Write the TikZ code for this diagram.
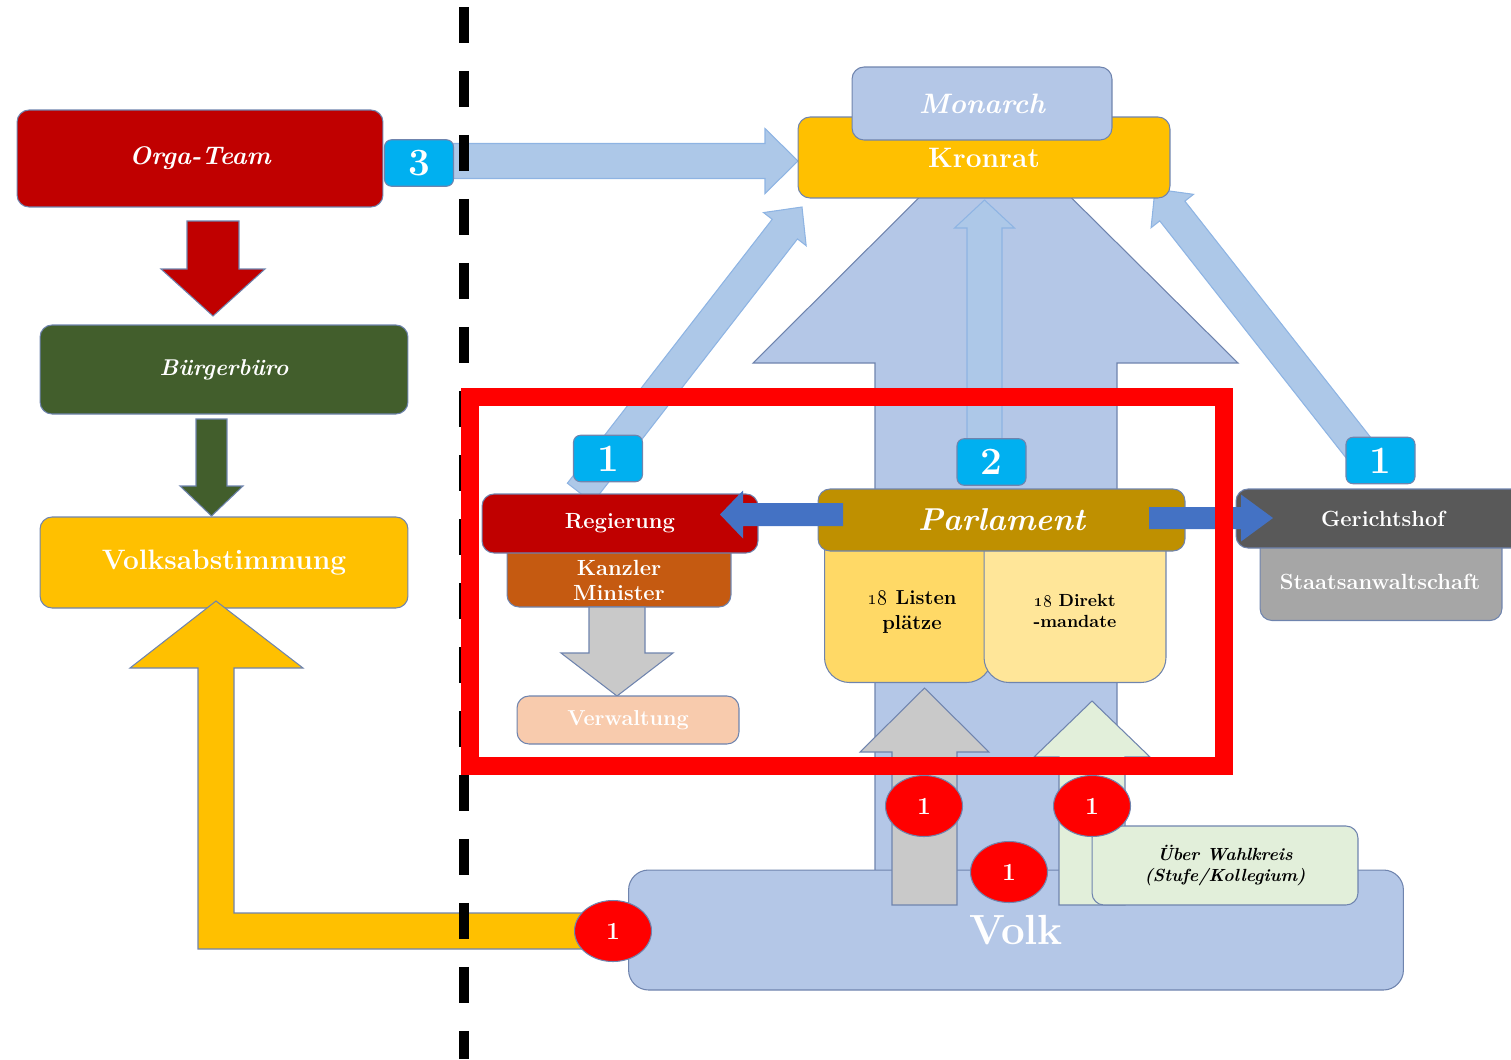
\documentclass[tikz,border=0pt]{standalone}
\usetikzlibrary{calc,shapes.geometric}
\definecolor{orgared}{HTML}{C00000}
\definecolor{buergergruen}{HTML}{425E2C}
\definecolor{gelb}{HTML}{FFC000}
\definecolor{volkblau}{HTML}{B4C7E7}
\definecolor{pfeilblau}{HTML}{ADC8E8}
\definecolor{pfeilrand}{HTML}{8EB4E3}
\definecolor{badgecyan}{HTML}{00B0F0}
\definecolor{kanzlerorange}{HTML}{C55A11}
\definecolor{verwpeach}{HTML}{F8CBAD}
\definecolor{parlgold}{HTML}{BF9000}
\definecolor{listengelb}{HTML}{FFD966}
\definecolor{direktgelb}{HTML}{FFE699}
\definecolor{gerichtgrau}{HTML}{595959}
\definecolor{staatsgrau}{HTML}{A6A6A6}
\definecolor{dunkelblau}{HTML}{4472C4}
\definecolor{pfeilgrau}{HTML}{C9C9C9}
\definecolor{hellgruen}{HTML}{E2EFDA}
\definecolor{boxline}{HTML}{6F84AE}
\newcommand{\fsz}[2]{\fontsize{#1}{#2}\selectfont}
% block arrow: [style]{from}{to}{shaft half}{head half}{head length}
\newcommand{\blockarrow}[6][]{%
  \coordinate (hb) at ($(#3)!#6!(#2)$);
  \path[#1] ($(#2)!#4!90:(#3)$) -- ($(hb)!#4!90:(#3)$) -- ($(hb)!#5!90:(#3)$)
    -- (#3) -- ($(hb)!#5!-90:(#3)$) -- ($(hb)!#4!-90:(#3)$)
    -- ($(#2)!#4!-90:(#3)$) -- cycle;}

\begin{document}
\begin{tikzpicture}[x=0.02cm, y=-0.02cm,
    box/.style={draw=boxline, line width=0.6pt, rounded corners=0.24cm, inner sep=0pt,
      text=white, font=\bfseries, align=center},
    txt/.style={inner sep=0pt, align=center, text=white, font=\bfseries},
    badge/.style={box, fill=badgecyan, rounded corners=0.14cm, minimum width=1.38cm,
      minimum height=0.93cm, font=\bfseries\fsz{22}{22}},
    dot/.style={ellipse, draw=boxline, line width=0.6pt, fill=red, inner sep=0pt,
      minimum width=1.54cm, minimum height=1.22cm, text=white, font=\bfseries\fsz{14}{14}},
    lightarrow/.style={fill=pfeilblau, draw=pfeilrand, line width=0.6pt},
    solidarrow/.style={draw=boxline, line width=0.6pt}
  ]
  \useasboundingbox (0,0) rectangle (1511,1059);
  \clip (0,0) rectangle (1511,1059);

  % arrow ends
  \coordinate (up2-s) at (984.5,440);  \coordinate (up2-e) at (984.5,200);
  \coordinate (diagl-s) at (580,493);  \coordinate (diagl-e) at (802,207);
  \coordinate (diagr-s) at (1372,465); \coordinate (diagr-e) at (1155,189);
  \coordinate (a3-s) at (453,161);     \coordinate (a3-e) at (798,161);

  % big arrow from the people up to the crown council
  \path[fill=volkblau, draw=boxline, line width=0.6pt]
    (875,900) -- (875,363) -- (753,363) -- (995,122) -- (1238,363) -- (1117,363) -- (1117,900) -- cycle;
  \blockarrow[lightarrow]{up2-s}{up2-e}{0.35cm}{0.6cm}{0.56cm}
  \blockarrow[lightarrow]{diagl-s}{diagl-e}{0.32cm}{0.54cm}{0.56cm}
  \blockarrow[lightarrow]{diagr-s}{diagr-e}{0.32cm}{0.54cm}{0.56cm}
  \blockarrow[lightarrow]{a3-s}{a3-e}{0.35cm}{0.65cm}{0.66cm}

  % crown
  \node[box, fill=gelb, minimum width=7.44cm, minimum height=1.62cm, font=\bfseries\fsz{16}{18}]
    (kronrat) at (984,157.5) {Kronrat};
  \node[box, fill=volkblau, minimum width=5.2cm, minimum height=1.46cm, font=\bfseries\itshape\fsz{16}{18}]
    (monarch) at (982,103.5) {Monarch};

  % left column
  \node[box, fill=orgared, minimum width=7.32cm, minimum height=1.94cm, font=\bfseries\itshape\fsz{14.5}{17}]
    (orga) at (200,158.5) {Orga-Team};
  \node[badge] (badge3) at (419,163) {3};
  \coordinate (red-s) at (213,221); \coordinate (red-e) at (213,316);
  \blockarrow[solidarrow, fill=orgared]{red-s}{red-e}{0.52cm}{1.04cm}{0.94cm}
  \node[box, fill=buergergruen, minimum width=7.36cm, minimum height=1.78cm, font=\bfseries\itshape\fsz{13}{15}]
    (buerger) at (224,369.5) {Bürgerbüro};
  \coordinate (gr-s) at (211.5,419); \coordinate (gr-e) at (211.5,516);
  \blockarrow[solidarrow, fill=buergergruen]{gr-s}{gr-e}{0.31cm}{0.63cm}{0.6cm}
  \node[box, fill=gelb, minimum width=7.36cm, minimum height=1.82cm, font=\bfseries\fsz{16}{18}]
    (volksab) at (224,562.5) {Volksabstimmung};

  % referendum path
  \path[solidarrow, fill=gelb]
    (600,913) -- (234,913) -- (234,668) -- (303,668) -- (216,601) -- (130,668)
    -- (198,668) -- (198,949) -- (600,949) -- cycle;

  % divider
  \draw[line width=0.2cm, dash pattern=on 0.72cm off 0.56cm] (464,7) -- (464,1059);

  % parliament
  \node[box, fill=listengelb, rounded corners=0.5cm, minimum width=3.34cm, minimum height=3.24cm]
    (listen) at (908,520) [anchor=north] {};
  \node[box, fill=direktgelb, rounded corners=0.5cm, minimum width=3.64cm, minimum height=3.24cm]
    (direkt) at (1075,520) [anchor=north] {};
  \node[txt, text=black, font=\bfseries\fsz{11.5}{14.2}] (listen-t) at (912,612)
    {\oldstylenums{18} Listen\\plätze};
  \node[txt, text=black, font=\bfseries\fsz{10}{12}] (direkt-t) at (1075,611)
    {\oldstylenums{18} Direkt\\-mandate};
  \node[box, fill=parlgold, minimum width=7.34cm, minimum height=1.24cm, font=\bfseries\itshape\fsz{18}{20}]
    (parl) at (1001.5,520) {Parlament};
  \coordinate (bl-s) at (843,514.5); \coordinate (bl-e) at (720,514.5);
  \coordinate (br-s) at (1149,518);  \coordinate (br-e) at (1273,518);

  % government
  \node[box, fill=kanzlerorange, minimum width=4.48cm, minimum height=1.34cm]
    (kanzler) at (619,573.5) {};
  \node[txt, font=\bfseries\fsz{12.5}{14.2}] (kanzler-t) at (619,580) {Kanzler\\Minister};
  \node[box, fill=orgared, minimum width=5.52cm, minimum height=1.18cm, font=\bfseries\fsz{12.5}{14}]
    (reg) at (620,523.5) {Regierung};
  \coordinate (gy-s) at (617,607); \coordinate (gy-e) at (617,696);
  \blockarrow[solidarrow, fill=pfeilgrau]{gy-s}{gy-e}{0.56cm}{1.12cm}{0.86cm}
  \node[box, fill=verwpeach, minimum width=4.44cm, minimum height=0.96cm, font=\bfseries\fsz{12.3}{14}]
    (verw) at (628,720) {Verwaltung};

  % court
  \node[box, fill=staatsgrau, minimum width=4.84cm, minimum height=1.8cm]
    (staats) at (1381,530) [anchor=north] {};
  \node[txt, font=\bfseries\fsz{12.5}{14}] (staats-t) at (1380,582) {Staatsanwaltschaft};
  \node[box, fill=gerichtgrau, minimum width=5.88cm, minimum height=1.18cm, font=\bfseries\fsz{12.5}{14}]
    (gericht) at (1383,518.5) {Gerichtshof};

  \blockarrow[fill=dunkelblau]{bl-s}{bl-e}{0.23cm}{0.48cm}{0.46cm}
  \blockarrow[fill=dunkelblau]{br-s}{br-e}{0.22cm}{0.47cm}{0.64cm}

  \node[badge] (badge1a) at (608,458.5) {1};
  \node[badge] (badge2) at (991.5,462) {2};
  \node[badge] (badge1b) at (1380.5,460.5) {1};

  % people
  \node[box, fill=volkblau, rounded corners=0.4cm, minimum width=15.5cm, minimum height=2.4cm,
    font=\bfseries\fsz{24}{26}] (volk) at (1016,930) {Volk};
  \coordinate (gu-s) at (924.5,905); \coordinate (gu-e) at (924.5,688);
  \coordinate (hg-s) at (1092,905);  \coordinate (hg-e) at (1092,701);
  \blockarrow[solidarrow, fill=pfeilgrau]{gu-s}{gu-e}{0.65cm}{1.29cm}{1.28cm}
  \blockarrow[solidarrow, fill=hellgruen]{hg-s}{hg-e}{0.66cm}{1.16cm}{1.12cm}
  \node[box, fill=hellgruen, text=black, minimum width=5.32cm, minimum height=1.58cm,
    font=\bfseries\itshape\fsz{10}{12}] (wahl) at (1225,865.5) {Über Wahlkreis\\(Stufe/Kollegium)};

  % focus frame
  \draw[red, line width=0.36cm] (470,397) rectangle (1224,766);

  \node[dot] (c1) at (613,931) {1};
  \node[dot] (c2) at (924,806) {1};
  \node[dot] (c3) at (1092,806) {1};
  \node[dot] (c4) at (1009,872) {1};
\end{tikzpicture}
\end{document}
